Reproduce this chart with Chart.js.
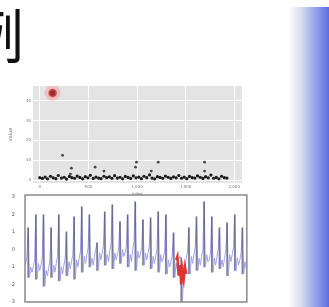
<!DOCTYPE html>
<html><head><meta charset="utf-8">
<script src="https://cdn.jsdelivr.net/npm/chart.js@4"></script>
<style>
html,body{margin:0;padding:0;width:329px;height:307px;overflow:hidden;background:#fff;position:relative}
#t{position:absolute;left:-34px;top:4px;font:58px/1 "Noto Sans CJK SC";color:#111}
#g{position:absolute;left:290px;top:7px;width:39px;height:300px;background:linear-gradient(to right,#fafafa 0%,#d4dcf0 30%,#9aa8ea 62%,#5a6ee4 100%)}
canvas{position:absolute}
#c1{left:8px;top:78px;filter:blur(0.5px)}
#c2{left:0;top:190px;filter:blur(0.5px)}
</style></head><body>
<div id="t">例</div><div id="g"></div>
<canvas id="c1" width="242" height="118"></canvas>
<canvas id="c2" width="252" height="117"></canvas>
<script>
// ---- top chart (scatter) data ----
const topXTicks = [0, 500, 1000, 1500, 2000];
const topYTicks = [0, 10, 20, 30, 40];
const highlightX = [132];
const highlightY = [44];
const sparseX = [234, 325, 315, 569, 660, 985, 995, 1147, 1218, 1695, 1695];
const sparseY = [12.5, 6, 3, 6.5, 4.5, 6.5, 9, 4.5, 9, 9, 4.5];
const denseX = [0,27,55,80,110,138,165,190,222,250,275,305,330,358,385,412,440,468,495,520,550,578,605,630,660,688,715,742,770,798,825,852,880,908,935,962,990,1018,1045,1072,1100,1128,1155,1182,1210,1238,1265,1292,1320,1348,1375,1402,1430,1458,1485,1512,1540,1568,1595,1622,1650,1678,1705,1732,1760,1788,1815,1842,1870,1898,1925];
const denseY = [1.2,0.8,1.5,0.6,1.9,1.1,0.7,2.3,1.0,1.4,0.5,1.8,1.2,0.9,2.0,1.3,0.6,1.7,1.1,2.4,0.8,1.5,1.0,0.7,1.9,1.2,1.6,0.9,2.2,1.0,1.4,0.6,1.8,1.3,0.8,2.1,1.1,1.5,0.7,1.9,1.2,2.6,1.0,0.6,1.7,1.3,0.9,2.0,1.4,0.8,1.6,1.1,2.3,0.9,1.5,0.7,1.8,1.2,1.0,2.1,1.4,0.8,1.7,1.1,2.5,0.9,1.3,0.6,1.9,1.2,1.0];

// ---- bottom chart (signal) data, one entry per cycle ----
const baseA  = [-0.8,-1.0,-0.9,-1.1,-0.8,-0.9,-0.7,-0.5,-0.3,-0.4,-0.2,-0.1,-0.3,-0.2,0.0,-0.3,-0.2,-0.4,-0.5,-0.7,-0.6,-0.5,-0.3,-0.4,-0.6,-0.4,-0.5,-0.3,-0.6];
const baseA2 = [-0.4,-0.6,-0.5,-0.6,-0.4,-0.5,-0.3,-0.1,0.1,0.0,0.2,0.3,0.1,0.2,0.4,0.1,0.2,0.0,-0.1,-0.3,-0.4,-0.1,0.1,0.0,-0.2,0.0,-0.1,0.1,-0.2];
const spikeTop = [1.23,1.97,1.97,1.23,1.97,1.0,1.86,2.43,1.97,0.37,2.14,2.54,1.57,1.97,2.71,1.69,1.8,2.14,1.97,0.94,-0.5,1.23,1.86,2.71,1.86,1.23,1.51,1.97,1.23];
const spikeLow = [-1.6,-1.7,-2.1,-1.6,-1.8,-1.5,-1.7,-1.3,-1.0,-1.2,-0.9,-1.1,-0.8,-1.0,-1.2,-0.9,-1.1,-1.3,-1.4,-1.6,-3.0,-1.4,-1.2,-1.0,-1.3,-1.1,-1.5,-1.2,-1.4];
const baseB  = [-1.0,-0.8,-1.2,-0.9,-1.0,-0.7,-0.6,-0.4,-0.5,-0.2,-0.3,-0.2,0.0,-0.3,-0.1,-0.2,-0.4,-0.3,-0.6,-0.8,-0.9,-0.4,-0.5,-0.3,-0.5,-0.6,-0.3,-0.5,-0.7];
const baseB2 = [-1.3,-1.2,-1.5,-1.3,-1.4,-1.1,-1.0,-0.8,-0.9,-0.6,-0.7,-0.6,-0.4,-0.7,-0.5,-0.6,-0.8,-0.7,-1.0,-1.2,-1.1,-0.8,-0.9,-0.7,-0.9,-1.0,-0.7,-0.9,-1.1];
const redStart = 118;
const redValues = [-0.6,-0.4,-1.5,-0.9,-2.0,-1.2,-1.7,-1.0,-1.4];
const botYTicks = [-3,-2,-1,0,1,2,3];
const botXTickAt = [17,33,50,68,87,103,122,138,157,173];
const botXTickText = ['50','100','150','200','250','300','350','400','450','500'];

// build tables
const signal = [], bars = [];
for (let i = 0; i < baseA.length; i++) {
  signal.push(baseA[i], baseA2[i], spikeTop[i], spikeLow[i], baseB[i], baseB2[i]);
  bars.push(null, null, [spikeLow[i], spikeTop[i]], null, null, null);
}
const red = signal.map(() => null);
redValues.forEach((v, k) => { red[redStart + k] = v; });
const botLabels = signal.map(() => '');
botXTickAt.forEach((p, k) => { botLabels[p] = botXTickText[k]; });

const panelBg = {id:'panelBg', beforeDraw(c, a, o){ if(!o.color) return; const {ctx, chartArea:{left,top,width,height}} = c; ctx.save(); ctx.fillStyle = o.color; ctx.fillRect(left, top, width, height); ctx.restore(); }};
const frame = {id:'frame', afterDraw(c, a, o){ if(!o.color) return; const {ctx, chartArea:{left,top,width,height}} = c; ctx.save(); ctx.strokeStyle = o.color; ctx.lineWidth = o.width || 1; ctx.strokeRect(left, top, width, height); ctx.restore(); }};
Chart.register(panelBg, frame);
Chart.defaults.font.family = 'DejaVu Sans';

const pts = (xs, ys) => xs.map((x, i) => ({x, y: ys[i]}));

new Chart(document.getElementById('c1'), {
  type: 'scatter',
  data: { datasets: [
    { data: pts(denseX, denseY), pointRadius: 1.6, backgroundColor: '#1a1a1a', borderColor: '#1a1a1a', borderWidth: 0 },
    { data: pts(sparseX, sparseY), pointRadius: 1.4, backgroundColor: '#444', borderColor: '#444', borderWidth: 0 },
    { data: pts(highlightX, highlightY), pointRadius: 8, backgroundColor: 'rgba(255,130,130,0.35)', borderWidth: 0 },
    { data: pts(highlightX, highlightY), pointRadius: 3.5, backgroundColor: '#4a0c0c', borderColor: '#d42424', borderWidth: 1.5 }
  ]},
  options: {
    responsive: false, animation: false, devicePixelRatio: 1,
    layout: { padding: { top: 7, right: 5, left: 0, bottom: 0 } },
    plugins: { legend: { display: false }, tooltip: { enabled: false }, panelBg: { color: '#e4e4e4' } },
    scales: {
      x: { type: 'linear', min: -70, max: 2080,
        afterBuildTicks: s => { s.ticks = topXTicks.map(v => ({value: v})); },
        afterFit: s => { s.height = 13; },
        grid: { color: '#ffffff', lineWidth: 1, drawTicks: false },
        border: { display: false },
        ticks: { font: { size: 4 }, color: '#777', padding: 2 },
        title: { display: true, text: 'index', font: { size: 4 }, color: '#777', padding: 0 } },
      y: { type: 'linear', min: -1.5, max: 47.5,
        afterBuildTicks: s => { s.ticks = topYTicks.map(v => ({value: v})); },
        afterFit: s => { s.width = 25; },
        grid: { color: '#ffffff', lineWidth: 1, drawTicks: false },
        border: { display: false },
        ticks: { font: { size: 4 }, color: '#777', padding: 2 },
        title: { display: true, text: 'value', font: { size: 5 }, color: '#666', padding: 0 } }
    }
  }
});

new Chart(document.getElementById('c2'), {
  type: 'bar',
  data: { labels: botLabels, datasets: [
    { type: 'line', data: red, borderColor: '#e03333', borderWidth: 2.5, pointRadius: 0, spanGaps: false, order: 0 },
    { type: 'bar', data: bars, backgroundColor: 'rgba(80,80,110,0.7)', barThickness: 1, order: 1 },
    { type: 'line', data: signal, borderColor: '#a2a2ec', borderWidth: 1, pointRadius: 0, order: 2 }
  ]},
  options: {
    responsive: false, animation: false, devicePixelRatio: 1,
    layout: { padding: { top: 5, right: 4, left: 0, bottom: 0 } },
    plugins: { legend: { display: false }, tooltip: { enabled: false }, frame: { color: '#8a8a8a', width: 1.5 } },
    scales: {
      x: { afterFit: s => { s.height = 5; },
        grid: { display: false }, border: { display: false },
        ticks: { autoSkip: false, maxRotation: 0, font: { size: 5 }, color: '#555', padding: 1 } },
      y: { min: -3, max: 3.1,
        afterBuildTicks: s => { s.ticks = botYTicks.map(v => ({value: v})); },
        afterFit: s => { s.width = 25; },
        grid: { display: false }, border: { display: false },
        ticks: { font: { size: 5 }, color: '#555', padding: 2 } }
    }
  }
});
</script>
</body></html>
